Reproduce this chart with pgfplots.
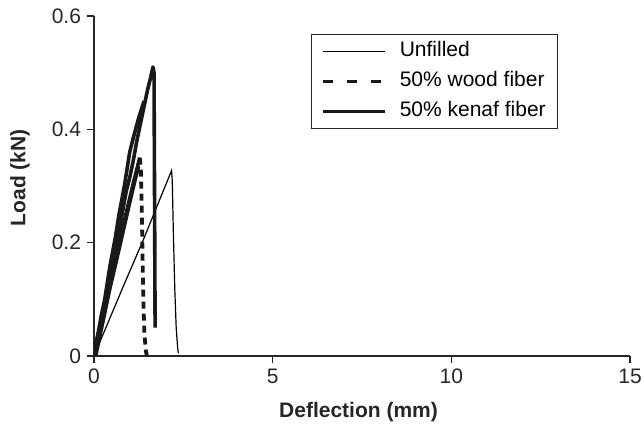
\documentclass[border=0pt]{standalone}
\usepackage{fontspec}
\setmainfont{Liberation Sans}
\usepackage{pgfplots}
\pgfplotsset{compat=1.18}
\begin{document}
\begin{tikzpicture}
\path[use as bounding box] (-94pt,-69pt) rectangle (550pt,356pt);
\begin{axis}[
  at={(0pt,0pt)}, anchor=south west,
  scale only axis, width=536pt, height=340pt,
  xmin=0, xmax=15, ymin=0, ymax=0.6,
  axis lines*=left,
  axis line style={line width=1.2pt, black!85},
  every tick/.style={line width=1.2pt, black!85},
  tick align=outside, major tick length=6.5pt,
  xtick={0,5,10,15}, ytick={0,0.2,0.4,0.6},
  yticklabels={0,0.2,0.4,0.6},
  /pgf/number format/assume math mode=true,
  tick label style={font=\fontsize{21}{25}\selectfont, text=black!85},
  xticklabel style={yshift=-3pt},
  yticklabel style={xshift=-3pt},
  every axis x label/.style={at={(axis description cs:0.4935,-0.165)}, anchor=center, font=\fontsize{21}{25}\selectfont\bfseries, text=black!85},
  every axis y label/.style={at={(axis description cs:-0.138,0.524)}, rotate=90, anchor=center, font=\fontsize{21}{25}\selectfont\bfseries, text=black!85},
  xlabel={Deflection (mm)}, ylabel={Load (kN)},
  legend style={at={(axis description cs:0.404,0.947)}, anchor=north west,
    draw=black!85, line width=0.9pt, font=\fontsize{21}{25}\selectfont,
    inner xsep=10pt, inner ysep=5pt, row sep=6pt, column sep=11pt,
    nodes={inner sep=2pt, text height=15pt, text depth=5pt}},
  legend cell align=left,
  legend image code/.code={\draw[#1] (0pt,0pt) -- (62pt,0pt);},
]
% Unfilled
\addplot[black, line width=1.2pt] coordinates {
 (0.0,0.0) (0.05,0.008) (0.1,0.015) (0.3,0.045) (0.8,0.12) (1.38,0.205) (1.8,0.27) (2.17,0.327)
 (2.19,0.31) (2.22,0.22) (2.26,0.12) (2.3,0.05) (2.34,0.015) (2.36,0.005)};
\addlegendentry{Unfilled}
% 50% wood fiber (descending, dashed)
\addplot[black!90, line width=3.8pt, dash pattern=on 7pt off 5pt,
  legend image code/.code={\draw[black!90, line width=3.8pt, dash pattern=on 10pt off 14pt] (0pt,0pt) -- (62pt,0pt);}]
 coordinates {(1.28,0.35) (1.31,0.33) (1.34,0.25) (1.36,0.17) (1.38,0.1) (1.41,0.04) (1.45,0.01) (1.48,0.0)};
\addlegendentry{50\% wood fiber}
% 50% kenaf fiber
\addplot[black!90, line width=3.6pt, line join=round] coordinates {
 (0.0,0.0) (0.1,0.03) (0.2,0.055) (0.3,0.09) (0.4,0.12) (0.5,0.16) (0.6,0.19) (0.7,0.22) (0.8,0.255)
 (0.9,0.29) (1.0,0.315) (1.1,0.345) (1.2,0.38) (1.3,0.41) (1.4,0.44) (1.5,0.47) (1.58,0.49) (1.65,0.51)
 (1.68,0.50) (1.69,0.35) (1.70,0.2) (1.71,0.05)};
\addlegendentry{50\% kenaf fiber}
% extra strands
\addplot[black!90, line width=3.6pt, line join=round, forget plot] coordinates {
 (0.02,0.0) (0.1,0.035) (0.2,0.07) (0.3,0.1) (0.45,0.16) (0.6,0.21) (0.7,0.25) (0.85,0.3) (0.95,0.34)
 (1.0,0.36) (1.1,0.385) (1.25,0.42) (1.4,0.45)};
\addplot[black!90, line width=3.6pt, line join=round, forget plot] coordinates {
 (0.0,0.01) (0.1,0.035) (0.2,0.06) (0.35,0.1) (0.5,0.145) (0.65,0.185) (0.8,0.225) (0.95,0.265)
 (1.1,0.305) (1.2,0.33) (1.28,0.35)};
\addplot[black!90, line width=3.4pt, line join=round, forget plot] coordinates {
 (0.05,0.0) (0.15,0.03) (0.3,0.075) (0.45,0.12) (0.6,0.16) (0.8,0.215) (1.0,0.27) (1.15,0.31) (1.25,0.335)};
\end{axis}
\end{tikzpicture}
\end{document}
